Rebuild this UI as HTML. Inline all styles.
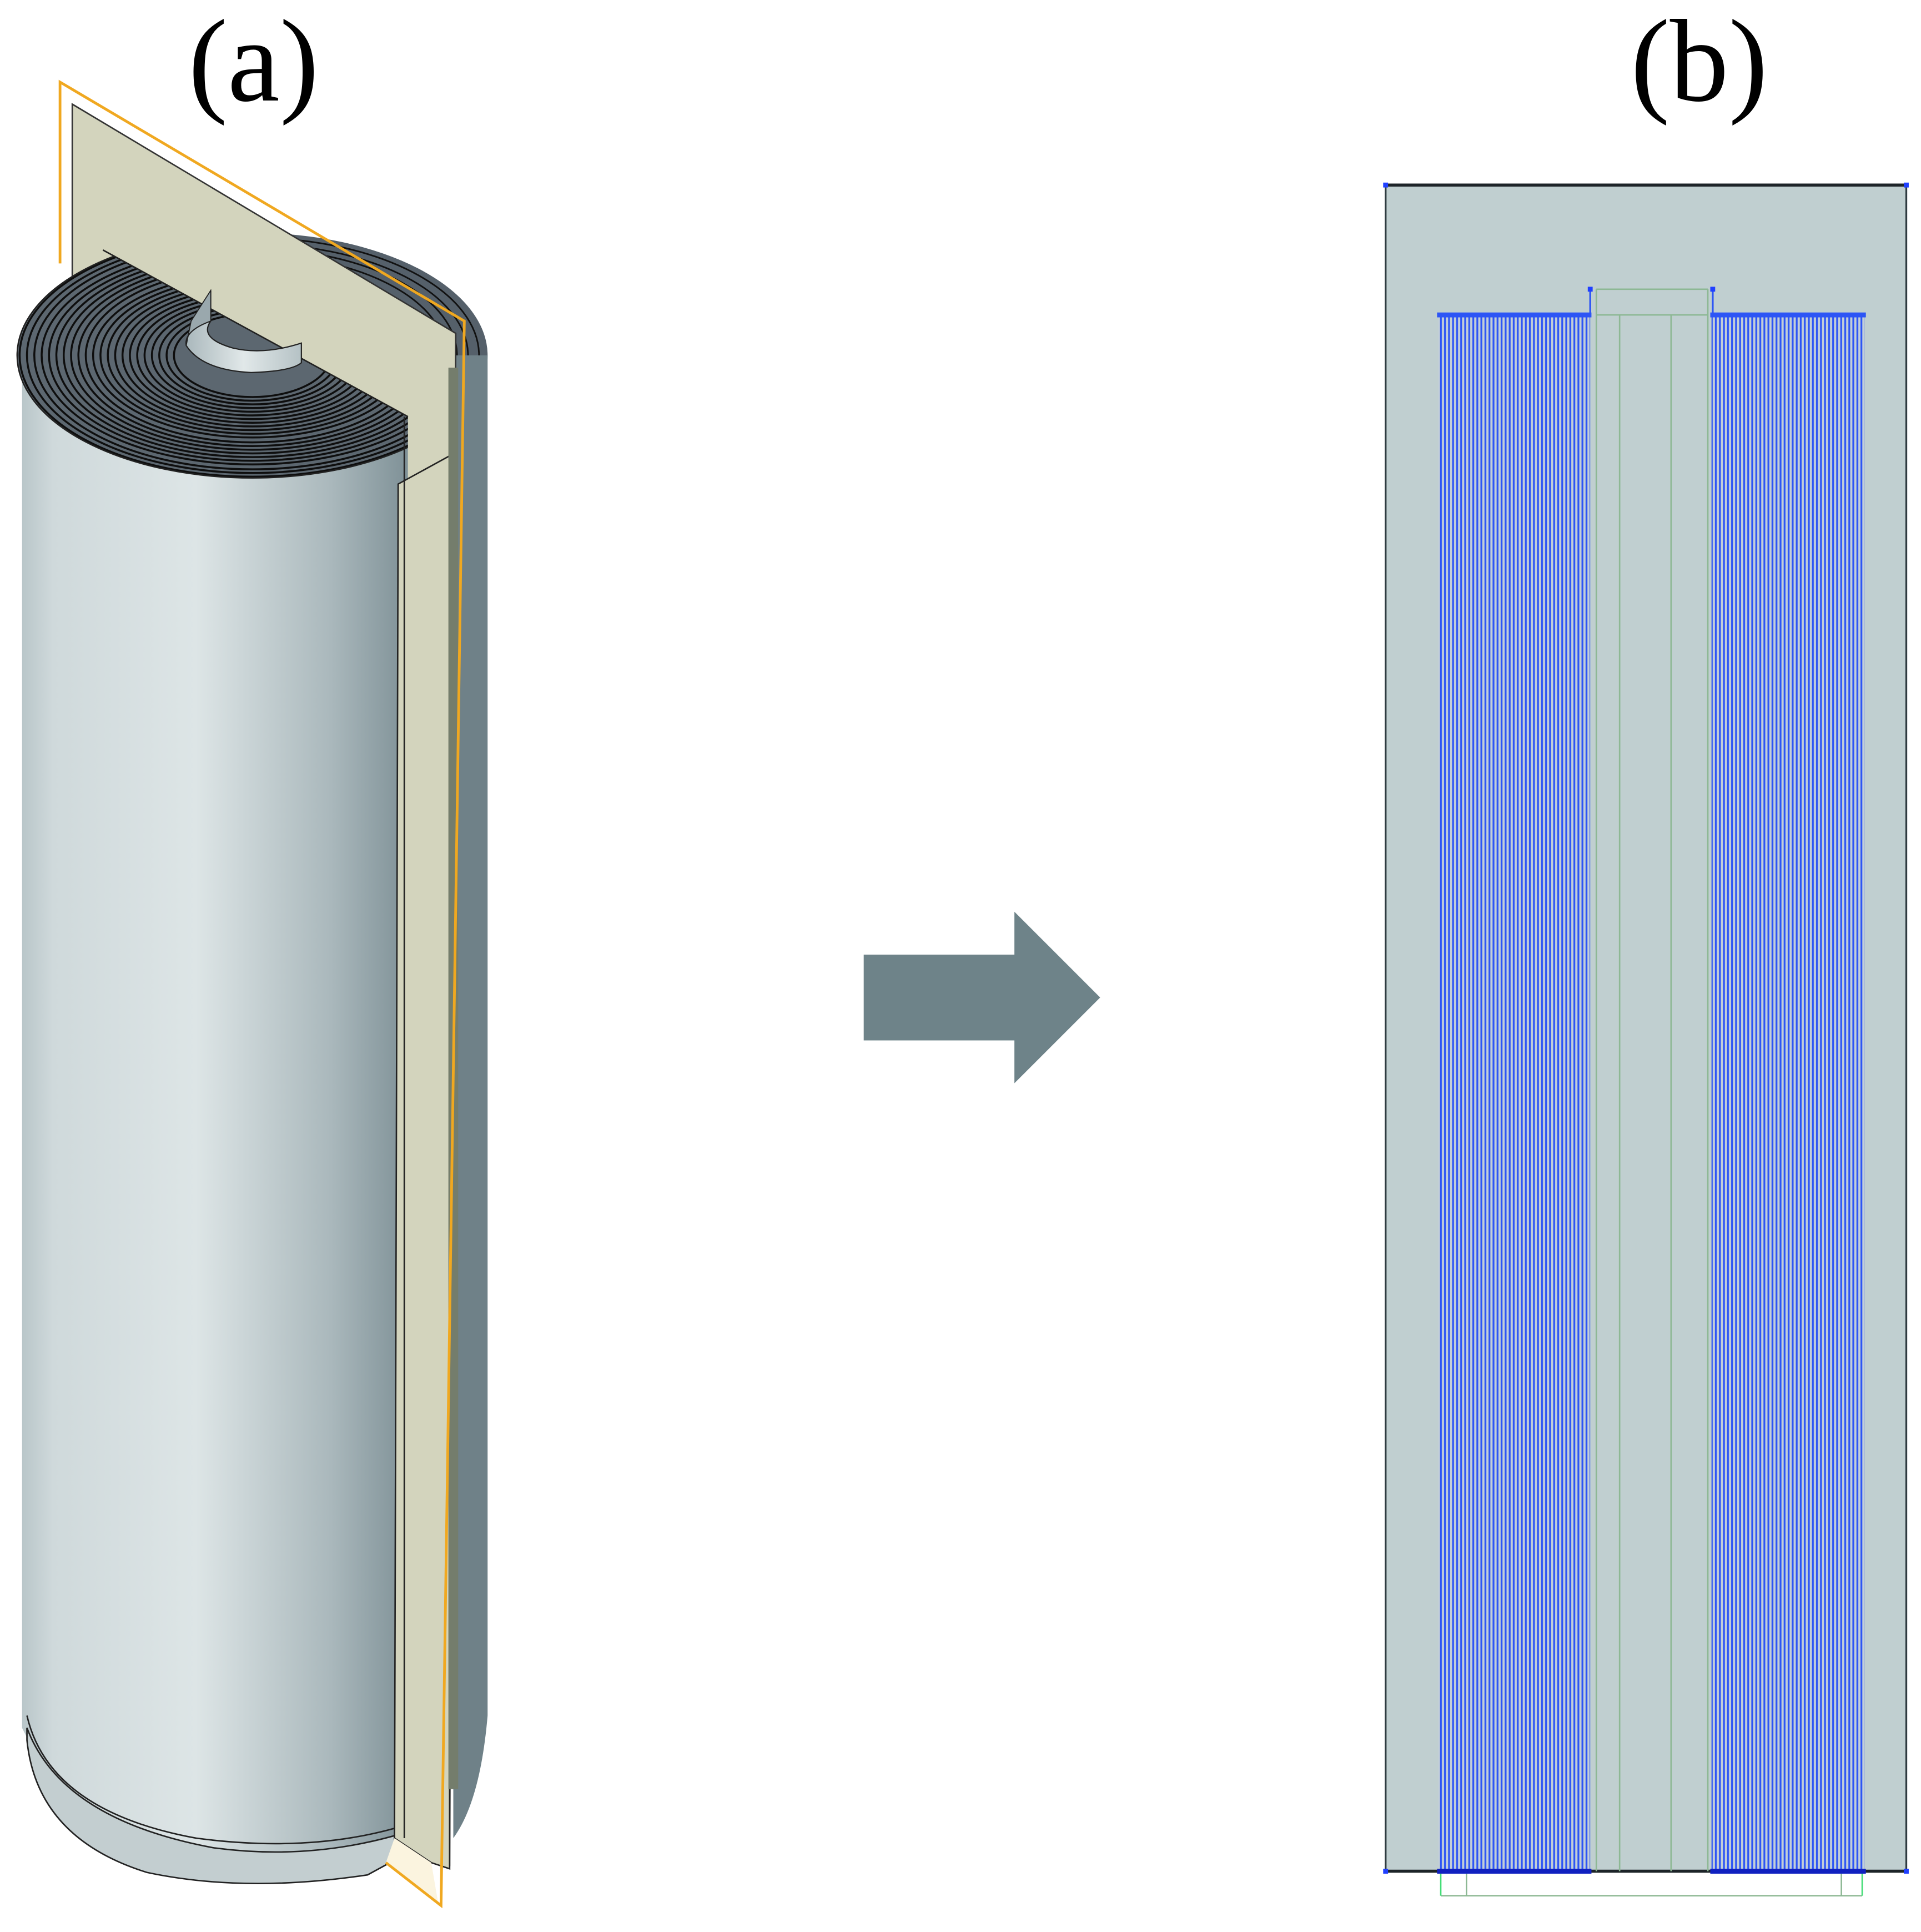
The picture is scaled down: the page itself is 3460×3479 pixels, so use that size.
<!DOCTYPE html>
<html><head><meta charset="utf-8"><style>
html,body{margin:0;padding:0;background:#fff;}
svg{display:block;}
</style></head><body>
<svg width="3460" height="3479" viewBox="0 0 1568 1576.6" preserveAspectRatio="none" xmlns="http://www.w3.org/2000/svg">
<defs>
<linearGradient id="cyl" x1="0" x2="1" y1="0" y2="0">
<stop offset="0" stop-color="#b9c6c9"/>
<stop offset="0.08" stop-color="#cfd9db"/>
<stop offset="0.45" stop-color="#dde5e6"/>
<stop offset="0.8" stop-color="#aab8bc"/>
<stop offset="1" stop-color="#7f9197"/>
</linearGradient>
<linearGradient id="hole" x1="0" x2="1">
<stop offset="0" stop-color="#aab8bc"/><stop offset="0.5" stop-color="#e1e8e9"/><stop offset="1" stop-color="#b5c2c5"/>
</linearGradient>
<pattern id="stripes" x="0" y="0" width="3.3" height="10" patternUnits="userSpaceOnUse">
<rect width="3.3" height="10" fill="#c3cfd8"/>
<rect x="0.6" width="1.5" height="10" fill="#2d55f5"/>
</pattern>
<clipPath id="topcut"><polygon points="0,150 84,204 333,340 333,1600 0,1600"/></clipPath>
</defs>

<!-- labels -->
<text x="207" y="82" font-family="Liberation Serif, serif" font-size="96" text-anchor="middle" fill="#000">(a)</text>
<text x="1387" y="82" font-family="Liberation Serif, serif" font-size="96" text-anchor="middle" fill="#000">(b)</text>

<!-- back cylinder: rings top + strip -->
<ellipse cx="206" cy="290" rx="192" ry="100" fill="#55606a"/>
<g fill="none" stroke="#111" stroke-width="1.3">
<ellipse cx="206" cy="290" rx="185" ry="96"/><ellipse cx="206" cy="290" rx="176" ry="91"/><ellipse cx="206" cy="290" rx="167" ry="87"/><ellipse cx="206" cy="290" rx="158" ry="82"/>
</g>
<path d="M370 290 L398 290 L398 1400 Q392 1470 370 1500 Z" fill="#6f8188"/>

<!-- plane (beige) -->
<polygon points="59,85 372,272 367,1522 340,1505 59,1330" fill="#d3d4bd" stroke="#333" stroke-width="1.2"/>

<!-- front cylinder (clipped to wedge) -->
<g clip-path="url(#topcut)">
<path d="M18 290 L333 290 L333 1500 Q250 1520 180 1510 Q60 1490 28 1430 L18 1410 Z" fill="url(#cyl)"/>
<ellipse cx="206" cy="290" rx="192" ry="100" fill="#5c6770"/>
<g fill="none" stroke="#0e0e0e" stroke-width="1.6">
<ellipse cx="206" cy="290" rx="190" ry="99"/><ellipse cx="206" cy="290" rx="184" ry="96"/><ellipse cx="206" cy="290" rx="178" ry="93"/><ellipse cx="206" cy="290" rx="172" ry="89"/><ellipse cx="206" cy="290" rx="166" ry="86"/><ellipse cx="206" cy="290" rx="160" ry="83"/><ellipse cx="206" cy="290" rx="154" ry="80"/><ellipse cx="206" cy="290" rx="148" ry="77"/><ellipse cx="206" cy="290" rx="142" ry="74"/><ellipse cx="206" cy="290" rx="136" ry="71"/><ellipse cx="206" cy="290" rx="130" ry="67"/><ellipse cx="206" cy="290" rx="124" ry="64"/><ellipse cx="206" cy="290" rx="118" ry="61"/><ellipse cx="206" cy="290" rx="112" ry="58"/><ellipse cx="206" cy="290" rx="106" ry="55"/><ellipse cx="206" cy="290" rx="100" ry="52"/><ellipse cx="206" cy="290" rx="94" ry="49"/><ellipse cx="206" cy="290" rx="88" ry="46"/><ellipse cx="206" cy="290" rx="82" ry="43"/><ellipse cx="206" cy="290" rx="76" ry="40"/><ellipse cx="206" cy="290" rx="70" ry="37"/><ellipse cx="206" cy="290" rx="64" ry="34"/>
</g>
<ellipse cx="206" cy="290" rx="192" ry="100" fill="none" stroke="#222" stroke-width="1.2"/>
</g>
<line x1="84" y1="204" x2="333" y2="340" stroke="#222" stroke-width="1.2"/>
<!-- hole -->
<path d="M172 237 L172 262 Q150 270 152 282 Q165 302 205 304 Q238 303 246 296 L246 280 Q215 290 190 284 Q162 276 172 262Z" fill="url(#hole)" stroke="#222" stroke-width="1"/>
<path d="M172 237 L172 262 Q150 270 152 282 L156 262 Z" fill="#9aa8ad" stroke="#222" stroke-width="0.8"/>

<!-- bottom flange -->
<path d="M22 1420 Q30 1500 120 1528 Q200 1545 300 1530 L322 1518 L322 1498 Q250 1518 175 1508 Q50 1485 22 1410Z" fill="#c3ced0" stroke="#222" stroke-width="1.2"/>
<path d="M22 1400 Q40 1478 160 1500 Q250 1512 322 1492" fill="none" stroke="#222" stroke-width="1.2"/>

<!-- front plane strip -->
<polygon points="325,395 367,372 367,1525 352,1520 322,1500" fill="#d3d4bd" stroke="#222" stroke-width="1.2"/>
<line x1="330" y1="340" x2="330" y2="1500" stroke="#222" stroke-width="1.2"/>
<rect x="366" y="300" width="8" height="1160" fill="#747d6c"/>
<polygon points="322,1500 352,1520 358,1555 315,1520" fill="#fbf4df"/>

<!-- yellow outline -->
<polyline points="49,215 49,67 379,262 360,1555 315,1520" fill="none" stroke="#f0a820" stroke-width="2.2"/>

<!-- arrow -->
<polygon points="705,779 828,779 828,744 898,814 828,884 828,849 705,849" fill="#6e8389"/>

<!-- panel b -->
<rect x="1131" y="151" width="425" height="1376" fill="#c0cfd0" stroke="#2f3b40" stroke-width="1.5"/>
<line x1="1131" y1="151" x2="1556" y2="151" stroke="#1d2428" stroke-width="2.5"/>
<line x1="1131" y1="1527" x2="1556" y2="1527" stroke="#1d2428" stroke-width="2.5"/>
<rect x="1174" y="257" width="124" height="1270" fill="url(#stripes)"/>
<rect x="1397" y="257" width="125" height="1270" fill="url(#stripes)"/>
<rect x="1173" y="255" width="126" height="4" fill="#2d55f5"/>
<rect x="1396" y="255" width="127" height="4" fill="#2d55f5"/>
<rect x="1173" y="1525" width="126" height="4" fill="#1020c0"/>
<rect x="1396" y="1525" width="127" height="4" fill="#1020c0"/>
<line x1="1298" y1="236" x2="1298" y2="257" stroke="#2d55f5" stroke-width="1.5"/>
<line x1="1398" y1="236" x2="1398" y2="257" stroke="#2d55f5" stroke-width="1.5"/>
<g stroke="#8db894" stroke-width="1.2" fill="none">
<line x1="1303" y1="236" x2="1394" y2="236"/>
<line x1="1303" y1="257" x2="1394" y2="257"/>
<line x1="1303" y1="236" x2="1303" y2="1527"/>
<line x1="1394" y1="236" x2="1394" y2="1527"/>
<line x1="1322" y1="257" x2="1322" y2="1527"/>
<line x1="1364" y1="257" x2="1364" y2="1527"/>
<line x1="1176" y1="1547" x2="1520" y2="1547"/>
<line x1="1197" y1="1529" x2="1197" y2="1547"/>
<line x1="1503" y1="1529" x2="1503" y2="1547"/>
</g>
<line x1="1176" y1="1529" x2="1176" y2="1547" stroke="#44dd77" stroke-width="1.2"/>
<line x1="1520" y1="1529" x2="1520" y2="1547" stroke="#44dd77" stroke-width="1.2"/>
<g fill="#2040ff">
<rect x="1129" y="149" width="4" height="4"/><rect x="1554" y="149" width="4" height="4"/>
<rect x="1129" y="1525" width="4" height="4"/><rect x="1554" y="1525" width="4" height="4"/>
<rect x="1296" y="234" width="4" height="4"/><rect x="1396" y="234" width="4" height="4"/>
</g>
</svg>
</body></html>
